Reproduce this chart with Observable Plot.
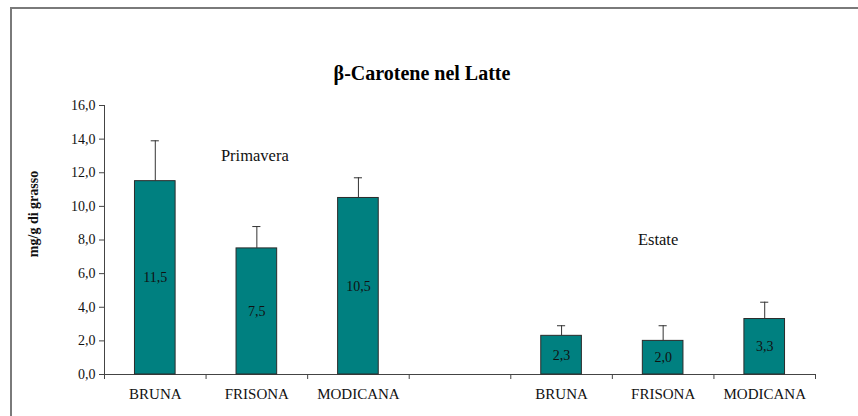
<!DOCTYPE html>
<html>
<head>
<meta charset="utf-8">
<script src="https://cdn.jsdelivr.net/npm/d3@7"></script>
<script src="https://cdn.jsdelivr.net/npm/@observablehq/plot@0.6"></script>
<style>
  html, body { margin: 0; padding: 0; background: #fff; overflow: hidden; }
  #wrap { position: relative; width: 858px; height: 416px; }
  #border { position: absolute; left: 10px; top: 7px; width: 900px; height: 500px;
            border-left: 2px solid #7a7a7a; border-top: 2px solid #7a7a7a; }
  #chart { position: absolute; left: 0; top: 0; }
  #chart svg, #chart svg text { font-family: 'Liberation Serif', 'Times New Roman', serif; }
</style>
</head>
<body>
<div id="wrap"><div id="border"></div><div id="chart"></div></div>
<script>
const categories = ["BRUNA", "FRISONA", "MODICANA", "", "BRUNA", "FRISONA", "MODICANA"];
const values = [11.5, 7.5, 10.5, null, 2.3, 2.0, 3.3];
const errors = [2.4, 1.3, 1.2, null, 0.6, 0.9, 1.0];
const valueLabels = ["11,5", "7,5", "10,5", "", "2,3", "2,0", "3,3"];
const seasonLabels = ["Primavera", "Estate"];
const seasonX = [1.48, 5.45];
const seasonY = [13.0, 8.0];
const yTicks = [0, 2, 4, 6, 8, 10, 12, 14, 16];
const title = "β-Carotene nel Latte";
const yLabel = "mg/g di grasso";

const FONT = "'Liberation Serif', 'Times New Roman', serif";

const slots = categories.map((c, i) => ({slot: i, cat: c}));
const bars = categories.map((c, i) => ({slot: i, value: values[i], err: errors[i], label: valueLabels[i]}))
  .filter(d => d.value != null);
const seasons = seasonLabels.map((s, i) => ({text: s, x: seasonX[i], y: seasonY[i]}));

const plot = Plot.plot({
  width: 858,
  height: 416,
  marginLeft: 104,
  marginRight: 43,
  marginTop: 105,
  marginBottom: 42,
  style: `font-family: ${FONT}; background: transparent; overflow: visible;`,
  x: {type: "linear", domain: [0, categories.length], axis: null},
  y: {type: "linear", domain: [0, 16], axis: null},
  marks: [
    // y axis
    Plot.axisY({ticks: yTicks, tickFormat: d => d.toFixed(1).replace(".", ","), tickSize: 5,
      tickPadding: 4, fontSize: 14, fill: "#111", stroke: "#444", label: null}),
    Plot.ruleX([0], {stroke: "#444"}),
    // x axis ticks at slot boundaries (no text)
    Plot.axisX({ticks: d3.range(categories.length + 1), tickFormat: () => "", tickSize: 5,
      stroke: "#444", label: null}),
    Plot.ruleY([0], {stroke: "#444"}),
    // bars
    Plot.rectY(bars, {x1: d => d.slot + 0.3, x2: d => d.slot + 0.7, y: "value",
      fill: "#008080", stroke: "#2b2b2b", strokeWidth: 1}),
    // error bars
    Plot.ruleX(bars, {x: d => d.slot + 0.5, y1: "value", y2: d => d.value + d.err, stroke: "#333"}),
    Plot.ruleY(bars, {y: d => d.value + d.err, x1: d => d.slot + 0.46, x2: d => d.slot + 0.54, stroke: "#333"}),
    // value labels
    Plot.text(bars, {x: d => d.slot + 0.5, y: d => d.value / 2, text: "label", fontSize: 14, fill: "#111"}),
    // category labels
    Plot.text(slots, {x: d => d.slot + 0.5, y: 0, text: "cat", dy: 20, fontSize: 15, fill: "#111"}),
    // season annotations
    Plot.text(seasons, {x: "x", y: "y", text: "text", fontSize: 16.5, fill: "#111"}),
    // title
    Plot.text([title], {frameAnchor: "top", dx: -38, dy: -40, fontSize: 20, fontWeight: "bold", fill: "#000"}),
    // y label
    Plot.text([yLabel], {frameAnchor: "left", textAnchor: "middle", rotate: -90, dx: -71, dy: -26, fontSize: 14,
      fontWeight: "bold", fill: "#111", letterSpacing: "1.6px"})
  ]
});
document.getElementById("chart").appendChild(plot);
</script>
</body>
</html>
